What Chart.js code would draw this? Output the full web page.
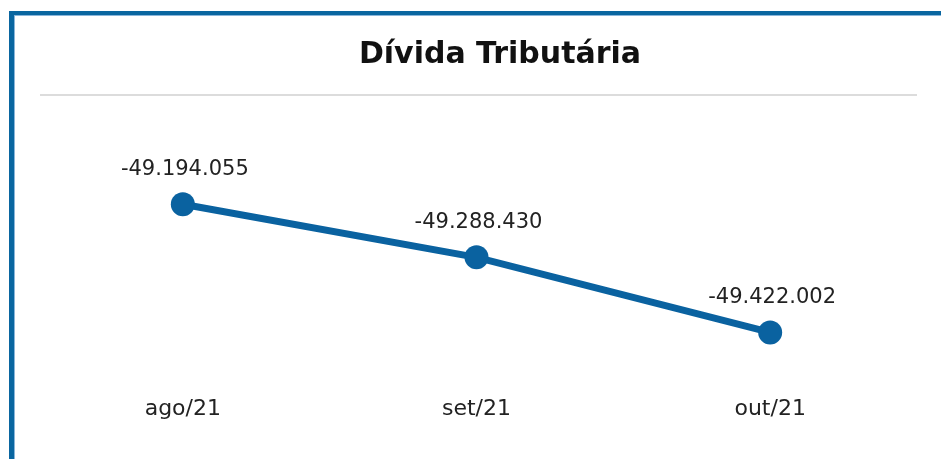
<!DOCTYPE html>
<html>
<head>
<meta charset="utf-8">
<script src="https://cdn.jsdelivr.net/npm/chart.js@4"></script>
<style>
	html, body { margin: 0; padding: 0; background: #fff; overflow: hidden; }
	#wrap { position: relative; width: 941px; height: 459px; overflow: hidden; }
	#frame {
		position: absolute; left: 9px; top: 11px; width: 927px; height: 444px;
		border-left: 5px solid #0a66a0; border-top: 4px solid #0a66a0;
		box-shadow: inset 1px 1px 0 #8ab6da; pointer-events: none;
	}
	canvas { position: absolute; left: 0; top: 0; }
</style>
</head>
<body>
<div id="wrap">
	<canvas id="myChart" width="941" height="459"></canvas>
	<div id="frame"></div>
</div>
<script>
// dados do gráfico
var meses = ['ago/21', 'set/21', 'out/21'];
var divida = [-49194055, -49288430, -49422002];
var titulo = 'Dívida Tributária';

function formatBR(v) {
	var s = Math.abs(v).toString().replace(/\B(?=(\d{3})+(?!\d))/g, '.');
	return (v < 0 ? '-' : '') + s;
}

// título, linha cinza abaixo dele e rótulos dos pontos
var extras = {
	id: 'extras',
	afterDraw: function (chart) {
		var c = chart.ctx;
		c.save();
		c.fillStyle = '#111';
		c.font = 'bold 30px "DejaVu Sans", sans-serif';
		c.textAlign = 'center';
		c.textBaseline = 'middle';
		c.fillText(titulo, 500, 55);

		c.strokeStyle = '#dcdcdc';
		c.lineWidth = 2;
		c.beginPath();
		c.moveTo(40, 95);
		c.lineTo(917, 95);
		c.stroke();

		c.fillStyle = '#222';
		c.font = '21px "DejaVu Sans", sans-serif';
		chart.getDatasetMeta(0).data.forEach(function (p, i) {
			c.fillText(formatBR(chart.data.datasets[0].data[i]), p.x + 2, p.y - 35);
		});
		c.restore();
	}
};

var ctx = document.getElementById('myChart').getContext('2d');
var myChart = new Chart(ctx, {
	type: 'line',
	data: {
		labels: meses,
		datasets: [{
			label: 'Dívida',
			data: divida,
			borderColor: '#0a62a0',
			backgroundColor: '#0a62a0',
			borderWidth: 7,
			pointRadius: 12,
			pointHoverRadius: 12,
			pointBorderWidth: 0,
			tension: 0
		}]
	},
	options: {
		responsive: false,
		animation: false,
		layout: { padding: { left: 36, right: 24, top: 110, bottom: 35 } },
		scales: {
			x: {
				offset: true,
				grid: { display: false },
				border: { display: false },
				ticks: { color: '#222', padding: 2, font: { size: 22, family: '"DejaVu Sans", sans-serif' } }
			},
			y: {
				display: false,
				min: -49516390,
				max: -49026650
			}
		},
		plugins: {
			legend: { display: false },
			tooltip: { enabled: false },
			title: { display: false }
		}
	},
	plugins: [extras]
});
</script>
</body>
</html>
